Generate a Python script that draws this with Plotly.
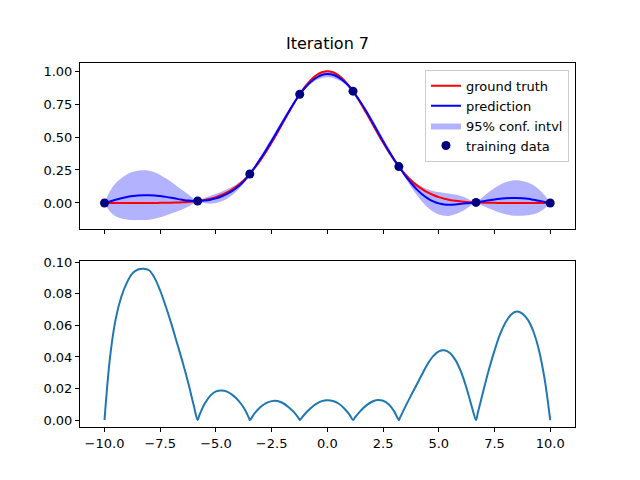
import plotly.graph_objects as go

# ---------------- data ----------------
x_grid = [-10.0, -9.75, -9.5, -9.25, -9.0, -8.75, -8.5, -8.25, -8.0, -7.75, -7.5, -7.25,
          -7.0, -6.75, -6.5, -6.25, -6.0, -5.82, -5.75, -5.5, -5.25, -5.0, -4.75, -4.5,
          -4.25, -4.0, -3.75, -3.5, -3.48, -3.25, -3.0, -2.75, -2.5, -2.25, -2.0, -1.75,
          -1.5, -1.25, -1.24, -1.0, -0.75, -0.5, -0.25, 0.0, 0.25, 0.5, 0.75, 1.0, 1.15,
          1.25, 1.5, 1.75, 2.0, 2.25, 2.5, 2.75, 3.0, 3.21, 3.25, 3.5, 3.75, 4.0, 4.25,
          4.5, 4.75, 5.0, 5.25, 5.5, 5.75, 6.0, 6.25, 6.5, 6.67, 6.75, 7.0, 7.25, 7.5,
          7.75, 8.0, 8.25, 8.5, 8.75, 9.0, 9.25, 9.5, 9.75, 10.0]

ground_truth = [0.0, 0.0, 0.0, 0.0, 0.0, 0.0, 0.0, 0.0, 0.0, 0.0, 0.0009, 0.0014,
                0.0022, 0.0034, 0.0051, 0.0076, 0.011, 0.0145, 0.016, 0.023, 0.032, 0.044, 0.060, 0.080,
                0.105, 0.135, 0.172, 0.216, 0.220, 0.267, 0.325, 0.389, 0.458, 0.531, 0.607, 0.682,
                0.755, 0.823, 0.825, 0.882, 0.932, 0.969, 0.992, 1.0, 0.992, 0.969, 0.932, 0.882, 0.848,
                0.823, 0.755, 0.682, 0.607, 0.531, 0.458, 0.389, 0.325, 0.276, 0.267, 0.216, 0.172, 0.135, 0.105,
                0.080, 0.060, 0.044, 0.032, 0.023, 0.016, 0.011, 0.0076, 0.0051, 0.0039, 0.0034, 0.0022, 0.0014, 0.0009,
                0.0, 0.0, 0.0, 0.0, 0.0, 0.0, 0.0, 0.0, 0.0, 0.0]

prediction = [0.0, 0.012, 0.024, 0.035, 0.045, 0.052, 0.057, 0.059, 0.059, 0.057, 0.052, 0.046,
              0.039, 0.031, 0.024, 0.018, 0.014, 0.0145, 0.015, 0.019, 0.025, 0.035, 0.049, 0.068,
              0.093, 0.124, 0.164, 0.214, 0.220, 0.273, 0.336, 0.402, 0.471, 0.543, 0.616, 0.688,
              0.758, 0.823, 0.825, 0.874, 0.917, 0.950, 0.971, 0.978, 0.972, 0.953, 0.922, 0.880, 0.848,
              0.824, 0.762, 0.694, 0.620, 0.544, 0.469, 0.397, 0.329, 0.276, 0.266, 0.205, 0.153, 0.105, 0.066,
              0.035, 0.012, -0.003, -0.011, -0.013, -0.011, -0.007, -0.003, 0.001, 0.004, 0.006, 0.013, 0.020, 0.027,
              0.032, 0.035, 0.037, 0.037, 0.035, 0.031, 0.024, 0.016, 0.008, 0.0]

std_dev = [0.0, 0.040, 0.064, 0.078, 0.087, 0.093, 0.0955, 0.096, 0.095, 0.090, 0.082, 0.072,
           0.061, 0.049, 0.037, 0.024, 0.0095, 0.0, 0.0028, 0.0105, 0.0155, 0.0182, 0.0188, 0.0180,
           0.0158, 0.0125, 0.0078, 0.0008, 0.0, 0.0045, 0.0082, 0.0107, 0.0120, 0.0120, 0.0108, 0.0083,
           0.0050, 0.0003, 0.0, 0.0040, 0.0075, 0.0102, 0.0120, 0.0125, 0.0121, 0.0105, 0.0075, 0.0033, 0.0,
           0.0018, 0.0060, 0.0093, 0.0116, 0.0127, 0.0122, 0.0100, 0.0055, 0.0, 0.0012, 0.0085, 0.0155, 0.0222, 0.0290,
           0.0355, 0.0405, 0.0435, 0.0442, 0.0425, 0.0380, 0.0305, 0.0200, 0.0075, 0.0, 0.0045, 0.0185, 0.0320, 0.0440,
           0.0545, 0.0620, 0.0670, 0.0688, 0.0675, 0.0635, 0.0560, 0.0440, 0.0260, 0.0]

train_x = [-10.0, -5.82, -3.48, -1.24, 1.15, 3.21, 6.67, 10.0]
train_y = [0.0, 0.0145, 0.220, 0.825, 0.848, 0.276, 0.0039, 0.0]

x_ticks = [-10.0, -7.5, -5.0, -2.5, 0.0, 2.5, 5.0, 7.5, 10.0]
top_y_ticks = [0.0, 0.25, 0.5, 0.75, 1.0]
bot_y_ticks = [0.0, 0.02, 0.04, 0.06, 0.08, 0.10]

upper = [m + 1.96 * s for m, s in zip(prediction, std_dev)]
lower = [m - 1.96 * s for m, s in zip(prediction, std_dev)]

FONT = "DejaVu Sans"
LW = 2
fig = go.Figure()

fig.add_trace(go.Scatter(x=x_grid, y=upper, mode="lines", line=dict(width=0, shape="spline"),
                         showlegend=False, hoverinfo="skip", xaxis="x", yaxis="y"))
fig.add_trace(go.Scatter(x=x_grid, y=lower, mode="lines", line=dict(width=0, shape="spline"),
                         fill="tonexty", fillcolor="rgba(0,0,255,0.3)", name="95% conf. intvl",
                         legendrank=3, xaxis="x", yaxis="y"))
fig.add_trace(go.Scatter(x=x_grid, y=ground_truth, mode="lines", line=dict(color="red", width=LW, shape="spline"),
                         name="ground truth", legendrank=1, xaxis="x", yaxis="y"))
fig.add_trace(go.Scatter(x=x_grid, y=prediction, mode="lines", line=dict(color="blue", width=LW, shape="spline"),
                         name="prediction", legendrank=2, xaxis="x", yaxis="y"))
fig.add_trace(go.Scatter(x=train_x, y=train_y, mode="markers", marker=dict(color="navy", size=9),
                         name="training data", legendrank=4, xaxis="x", yaxis="y"))
fig.add_trace(go.Scatter(x=x_grid, y=std_dev, mode="lines", line=dict(color="#1f77b4", width=LW, shape="spline"),
                         showlegend=False, xaxis="x2", yaxis="y2"))

axis_common = dict(showline=True, linecolor="black", linewidth=1, mirror=True, ticks="outside",
                   ticklen=4, tickcolor="black", tickwidth=1, showgrid=False, zeroline=False,
                   tickfont=dict(family=FONT, size=13, color="black"))

fig.update_layout(
    width=640, height=480, margin=dict(l=0, r=0, t=0, b=0),
    paper_bgcolor="white", plot_bgcolor="white",
    font=dict(family=FONT, size=13, color="black"),
    title=dict(text="Iteration 7", x=0.5117, xanchor="center", y=0.91, yanchor="middle",
               yref="container", font=dict(family=FONT, size=16, color="black")),
    xaxis=dict(domain=[0.125, 0.898], range=[-11.1, 11.1], tickvals=x_ticks, showticklabels=False,
               anchor="y", **axis_common),
    yaxis=dict(domain=[0.529, 0.879], range=[-0.196, 1.06], tickvals=top_y_ticks, tickformat=".2f",
               anchor="x", **axis_common),
    xaxis2=dict(domain=[0.125, 0.898], range=[-11.1, 11.1], tickvals=x_ticks, tickformat=".1f",
                anchor="y2", **axis_common),
    yaxis2=dict(domain=[0.110, 0.460], range=[-0.0044, 0.1006], tickvals=bot_y_ticks, tickformat=".2f",
                anchor="x2", **axis_common),
    legend=dict(x=0.889, xanchor="right", y=0.865, yanchor="top", bgcolor="rgba(255,255,255,0.8)",
                bordercolor="#cccccc", borderwidth=1, font=dict(family=FONT, size=13),
                traceorder="normal", tracegroupgap=0, itemwidth=30),
)

fig.write_html("out.html")
